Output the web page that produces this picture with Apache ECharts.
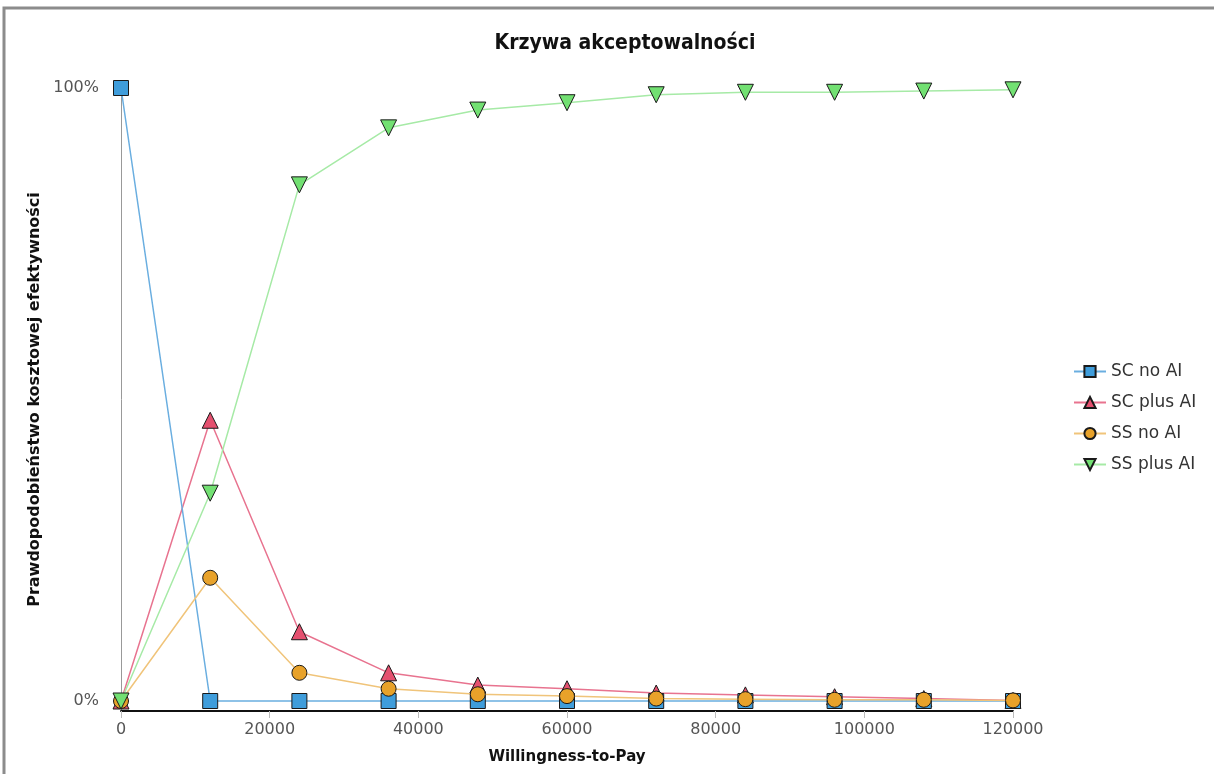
<!DOCTYPE html>
<html>
<head>
<meta charset="utf-8">
<script src="https://cdn.jsdelivr.net/npm/echarts@6/dist/echarts.min.js"></script>
<style>
html,body{margin:0;padding:0;background:#fff;}
#c{width:1214px;height:774px;}
</style>
</head>
<body>
<div id="c"></div>
<script>
// ---- data ----
const wtp = [0, 12000, 24000, 36000, 48000, 60000, 72000, 84000, 96000, 108000, 120000];
const scNoAI   = [1.000, 0.000, 0.000, 0.000, 0.000, 0.000, 0.000, 0.000, 0.000, 0.000, 0.000];
const scPlusAI = [0.000, 0.458, 0.113, 0.046, 0.026, 0.020, 0.013, 0.010, 0.007, 0.004, 0.001];
const ssNoAI   = [0.000, 0.201, 0.046, 0.020, 0.011, 0.008, 0.004, 0.003, 0.002, 0.002, 0.001];
const ssPlusAI = [0.000, 0.339, 0.842, 0.935, 0.964, 0.976, 0.989, 0.993, 0.993, 0.995, 0.997];
const seriesNames = ['SC no AI', 'SC plus AI', 'SS no AI', 'SS plus AI'];
const yTickValues = [0, 1];
const xTickLabels = ['0', '20000', '40000', '60000', '80000', '100000', '120000'];

const pairs = arr => wtp.map((x, i) => [x, arr[i]]);

const chart = echarts.init(document.getElementById('c'), null, {renderer: 'canvas'});

function mk(name, data, symbol, size, fill, line, z, rotate) {
  return {
    name: name, type: 'line', data: pairs(data), z: z,
    symbol: symbol, symbolSize: size, symbolRotate: rotate || 0,
    showAllSymbol: true,
    lineStyle: {color: line, width: 1.5},
    itemStyle: {color: fill, borderColor: '#1a1a1a', borderWidth: 1},
    emphasis: {disabled: true},
    animation: false
  };
}

chart.setOption({
  animation: false,
  backgroundColor: '#fff',
  title: {
    text: 'Krzywa akceptowalności',
    left: 620, top: 28, textAlign: 'center',
    textStyle: {fontFamily: 'DejaVu Sans Condensed, DejaVu Sans', fontSize: 21, fontWeight: 'bold', color: '#111'}
  },
  graphic: [{
    type: 'rect', shape: {x: 4, y: 8, width: 1240, height: 800},
    style: {fill: 'none', stroke: '#8c8c8c', lineWidth: 3}, silent: true
  }],
  legend: {
    orient: 'vertical', left: 1068, top: 358,
    itemWidth: 32, itemHeight: 14, itemGap: 14,
    data: seriesNames,
    textStyle: {fontFamily: 'DejaVu Sans', fontSize: 17, color: '#333'},
    selectedMode: false
  },
  grid: {left: 121, right: 201, top: 88, bottom: 63, containLabel: false},
  xAxis: {
    type: 'value', min: 0, max: 120000, interval: 20000,
    name: 'Willingness-to-Pay', nameLocation: 'middle', nameGap: 39,
    nameTextStyle: {fontFamily: 'DejaVu Sans', fontWeight: 'bold', fontSize: 15, color: '#111'},
    axisLine: {onZero: false, lineStyle: {color: '#111', width: 2}},
    axisTick: {show: true, length: 7, lineStyle: {color: '#bbb'}},
    axisLabel: {fontFamily: 'DejaVu Sans', fontSize: 16, color: '#555', margin: 11,
      formatter: (v) => xTickLabels[Math.round(v / 20000)]},
    splitLine: {show: false}
  },
  yAxis: {
    type: 'value', min: -0.0163, max: 1,
    name: 'Prawdopodobieństwo kosztowej efektywności', nameLocation: 'middle', nameGap: 78,
    nameTextStyle: {fontFamily: 'DejaVu Sans', fontWeight: 'bold', fontSize: 16, color: '#111'},
    axisLine: {show: true, onZero: false, lineStyle: {color: '#999', width: 1}},
    axisTick: {show: true, length: 6, customValues: yTickValues, lineStyle: {color: '#bbb'}},
    axisLabel: {customValues: yTickValues, fontFamily: 'DejaVu Sans', fontSize: 16, color: '#555', margin: 22,
      formatter: (v) => Math.round(v * 100) + '%'},
    splitLine: {show: false}
  },
  series: [
    mk('SC no AI', scNoAI, 'rect', 15, '#3f9ddb', '#6aaee0', 3),
    mk('SC plus AI', scPlusAI, 'triangle', 16, '#e5506f', '#e8738f', 2),
    mk('SS no AI', ssNoAI, 'circle', 15, '#e8a22a', '#f0c47a', 4),
    mk('SS plus AI', ssPlusAI, 'triangle', 16, '#72e072', '#a6eaa6', 5, 180)
  ]
});
</script>
</body>
</html>
